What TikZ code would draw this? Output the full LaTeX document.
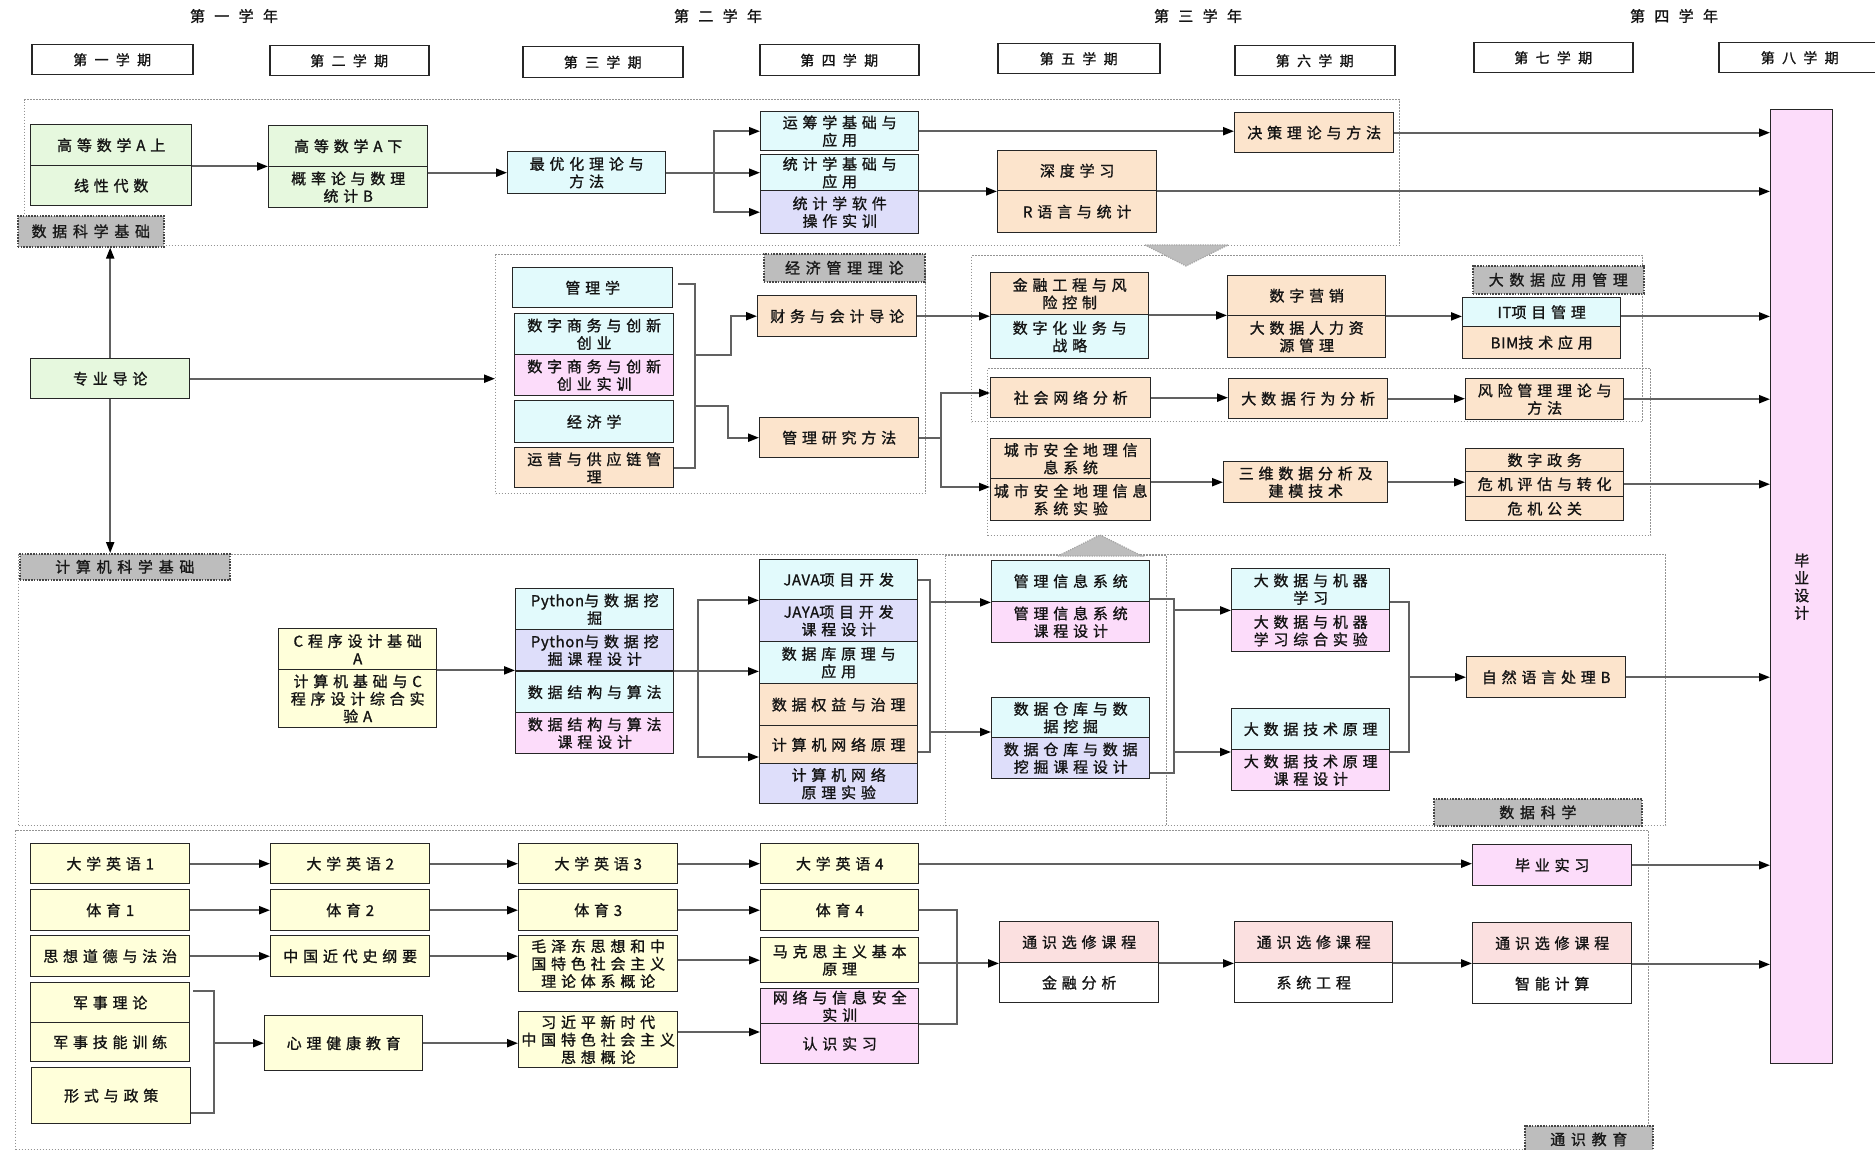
\documentclass[tikz,border=0pt]{standalone}
\usepackage{fontspec}
\setmainfont{Noto Sans CJK SC}[LetterSpace=32,FakeBold=1.2]
\usetikzlibrary{arrows.meta}
\definecolor{cgreen}{HTML}{E6F8DE}
\definecolor{ccyan}{HTML}{E2FAFC}
\definecolor{clav}{HTML}{DEDEFA}
\definecolor{cpink}{HTML}{FCDCFA}
\definecolor{corange}{HTML}{FCE4CC}
\definecolor{cyellow}{HTML}{FFFFDA}
\definecolor{crose}{HTML}{FBE0E0}
\definecolor{cgray}{HTML}{BDBDBD}
\newcommand\boxfont{\fontsize{15}{17.5}\selectfont}
\newcommand\semfont{\fontsize{14}{16}\selectfont\addfontfeatures{LetterSpace=52}}
\newcommand\yearfont{\fontsize{15}{17}\selectfont\addfontfeatures{LetterSpace=62}}
\newcommand\lblfont{\fontsize{15}{17}\selectfont\addfontfeatures{LetterSpace=38}}
\newcommand\lat[1]{{\addfontfeatures{LetterSpace=4}#1}}
\tikzset{
  bx/.style={draw=black!85, line width=1.4pt, inner sep=1pt, align=center, text=black!92, font=\boxfont},
  sem/.style={draw=black!85, line width=1.5pt, fill=white, inner sep=0pt, text=black!92, font=\semfont},
  region/.style={draw=gray!85, line width=1.3pt, dash pattern=on 1.3pt off 1.7pt, inner sep=0pt},
  glabel/.style={fill=cgray, draw=gray!55!black, line width=1.6pt, dash pattern=on 1.6pt off 1.2pt, inner sep=0pt, text=black!90, font=\lblfont},
  conline/.style={draw=black!62, line width=2pt},
  conarr/.style={conline, -{Triangle[length=11pt,width=8pt,color=black]}},
  tri/.style={fill=cgray, draw=gray!70, line width=1.2pt, dash pattern=on 1.2pt off 1.2pt}
}
\newcommand\crsbox[7]{\node[bx,fill=#2,anchor=north west,minimum width={#5-#3},minimum height={#6-#4}] (#1) at (#3,#4) {#7};}
\newcommand\crsregion[5]{\node[region,anchor=north west,minimum width={#4-#2},minimum height={#5-#3}] (#1) at (#2,#3) {};}
\newcommand\crslabel[6]{\node[glabel,anchor=north west,minimum width={#4-#2},minimum height={#5-#3}] (#1) at (#2,#3) {#6};}
\newcommand\crssem[6]{\node[sem,anchor=north west,minimum width={#4-#2},minimum height={#5-#3}] (#1) at (#2,#3) {#6};}
\begin{document}
\begin{tikzpicture}[x=1pt,y=-1pt]
\fill[white] (0,0) rectangle (1875,1150);
\useasboundingbox (0,0) rectangle (1875,1150);

% years
\node[font=\yearfont,text=black!92] (y1) at (234,16) {第一学年};
\node[font=\yearfont,text=black!92] (y2) at (718,16) {第二学年};
\node[font=\yearfont,text=black!92] (y3) at (1198,16) {第三学年};
\node[font=\yearfont,text=black!92] (y4) at (1674,16) {第四学年};
% semesters
\crssem{s1}{31}{44}{192}{74}{第一学期}
\crssem{s2}{269}{45}{428}{75}{第二学期}
\crssem{s3}{522}{46}{682}{77}{第三学期}
\crssem{s4}{759}{44}{918}{75}{第四学期}
\crssem{s5}{997}{43}{1159}{73}{第五学期}
\crssem{s6}{1234}{45}{1394}{75}{第六学期}
\crssem{s7}{1473}{42}{1632}{72}{第七学期}
\crssem{s8}{1718}{42}{1880}{72}{第八学期}

% regions
\crsregion{R1}{24}{99}{1399}{245}
\crsregion{R2}{495}{254}{925}{493}
\crsregion{R3a}{971}{255}{1642}{421}
\crsregion{R3b}{987}{368}{1650}{535}
\crsregion{R4}{18}{554}{1665}{825}
\crsregion{R4i}{945}{555}{1166}{825}
\crsregion{R5}{15}{830}{1648}{1149}

% triangles
\draw[tri] (1145,245) -- (1228,245) -- (1186,266) -- cycle;
\draw[tri] (1058,556) -- (1142,556) -- (1100,535) -- cycle;

% labels
\crslabel{L1}{17}{215}{163}{246}{数据科学基础}
\crslabel{L2}{763}{253}{924}{281}{经济管理理论}
\crslabel{L3}{1472}{265}{1643}{293}{大数据应用管理}
\crslabel{L4}{19}{553}{229}{579}{计算机科学基础}
\crslabel{L5}{1433}{798}{1641}{825}{数据科学}
\crslabel{L6}{1524}{1125}{1652}{1152}{通识教育}

% region 1
\crsbox{gA1}{cgreen}{30}{124}{191}{165}{高等数学A上}
\crsbox{gA2}{cgreen}{30}{165}{191}{205}{线性代数}
\crsbox{gB1}{cgreen}{268}{125}{427}{166}{高等数学A下}
\crsbox{gB2}{cgreen}{268}{166}{427}{207}{概率论与数理\\统计B}
\crsbox{opt}{ccyan}{507}{151}{665}{193}{最优化理论与\\方法}
\crsbox{yc}{ccyan}{760}{111}{918}{150}{运筹学基础与\\应用}
\crsbox{tj}{ccyan}{760}{154}{918}{190}{统计学基础与\\应用}
\crsbox{tjsw}{clav}{760}{190}{918}{233}{统计学软件\\操作实训}
\crsbox{jc}{corange}{1234}{112}{1393}{152}{决策理论与方法}
\crsbox{sd}{corange}{997}{150}{1156}{190}{深度学习}
\crsbox{rl}{corange}{997}{190}{1156}{232}{R语言与统计}
\crsbox{bysj}{cpink}{1770}{109}{1832}{1063}{毕\\业\\设\\计}

% region 2
\crsbox{zydl}{cgreen}{30}{358}{189}{398}{专业导论}
\crsbox{glx}{ccyan}{512}{267}{672}{307}{管理学}
\crsbox{szsw}{ccyan}{514}{313}{673}{354}{数字商务与创新\\创业}
\crsbox{szsx}{cpink}{514}{354}{673}{395}{数字商务与创新\\创业实训}
\crsbox{jjx}{ccyan}{514}{400}{673}{442}{经济学}
\crsbox{yy}{corange}{514}{447}{673}{487}{运营与供应链管\\理}
\crsbox{cw}{corange}{757}{295}{916}{336}{财务与会计导论}
\crsbox{glyj}{corange}{759}{417}{918}{457}{管理研究方法}

% region 3
\crsbox{jr}{corange}{990}{272}{1148}{314}{金融工程与风\\险控制}
\crsbox{szh}{ccyan}{990}{314}{1148}{358}{数字化业务与\\战略}
\crsbox{szyx}{corange}{1227}{275}{1385}{315}{数字营销}
\crsbox{dsjrl}{corange}{1227}{315}{1385}{357}{大数据人力资\\源管理}
\crsbox{it}{ccyan}{1462}{297}{1620}{326}{\lat{IT}项目管理}
\crsbox{bim}{corange}{1462}{326}{1620}{358}{\lat{BIM}技术应用}
\crsbox{shwl}{corange}{990}{377}{1150}{417}{社会网络分析}
\crsbox{dsjxw}{corange}{1228}{378}{1387}{418}{大数据行为分析}
\crsbox{fx}{corange}{1465}{378}{1623}{419}{风险管理理论与\\方法}
\crsbox{cs1}{corange}{990}{438}{1150}{478}{城市安全地理信\\息系统}
\crsbox{cs2}{corange}{990}{478}{1150}{520}{城市安全地理信息\\系统实验}
\crsbox{sw}{corange}{1223}{461}{1387}{502}{三维数据分析及\\建模技术}
\crsbox{szzw}{corange}{1465}{448}{1623}{471}{数字政务}
\crsbox{wj}{corange}{1465}{471}{1623}{496}{危机评估与转化}
\crsbox{wjgg}{corange}{1465}{496}{1623}{520}{危机公关}

% region 4
\crsbox{c1}{cyellow}{278}{628}{436}{669}{C程序设计基础\\A}
\crsbox{c2}{cyellow}{278}{669}{436}{727}{计算机基础与C\\程序设计综合实\\验A}
\crsbox{py1}{ccyan}{515}{588}{673}{629}{\lat{Python}与数据挖\\掘}
\crsbox{py2}{clav}{515}{629}{673}{670}{\lat{Python}与数据挖\\掘课程设计}
\crsbox{ds1}{ccyan}{515}{671}{673}{712}{数据结构与算法}
\crsbox{ds2}{cpink}{515}{712}{673}{753}{数据结构与算法\\课程设计}
\crsbox{java}{ccyan}{759}{559}{917}{599}{\lat{JAVA}项目开发}
\crsbox{jaya}{clav}{759}{599}{917}{641}{\lat{JAYA}项目开发\\课程设计}
\crsbox{sjk}{ccyan}{759}{641}{917}{683}{数据库原理与\\应用}
\crsbox{sjqy}{corange}{759}{683}{917}{725}{数据权益与治理}
\crsbox{jsw}{corange}{759}{725}{917}{763}{计算机网络原理}
\crsbox{jswsy}{clav}{759}{763}{917}{803}{计算机网络\\原理实验}
\crsbox{mis1}{ccyan}{991}{560}{1149}{601}{管理信息系统}
\crsbox{mis2}{cpink}{991}{601}{1149}{642}{管理信息系统\\课程设计}
\crsbox{dw1}{ccyan}{991}{697}{1149}{737}{数据仓库与数\\据挖掘}
\crsbox{dw2}{clav}{991}{737}{1149}{778}{数据仓库与数据\\挖掘课程设计}
\crsbox{ml1}{ccyan}{1231}{568}{1389}{609}{大数据与机器\\学习}
\crsbox{ml2}{cpink}{1231}{609}{1389}{651}{大数据与机器\\学习综合实验}
\crsbox{bt1}{ccyan}{1231}{708}{1389}{749}{大数据技术原理}
\crsbox{bt2}{cpink}{1231}{749}{1389}{790}{大数据技术原理\\课程设计}
\crsbox{nlp}{corange}{1466}{656}{1625}{697}{自然语言处理B}

% region 5
\crsbox{en1}{cyellow}{30}{843}{189}{883}{大学英语1}
\crsbox{pe1}{cyellow}{30}{889}{189}{930}{体育1}
\crsbox{sx}{cyellow}{30}{935}{189}{976}{思想道德与法治}
\crsbox{js1}{cyellow}{30}{982}{189}{1022}{军事理论}
\crsbox{js2}{cyellow}{30}{1022}{189}{1061}{军事技能训练}
\crsbox{xs}{cyellow}{31}{1067}{190}{1123}{形式与政策}
\crsbox{en2}{cyellow}{270}{843}{429}{883}{大学英语2}
\crsbox{pe2}{cyellow}{270}{889}{429}{930}{体育2}
\crsbox{zgjd}{cyellow}{270}{935}{429}{976}{中国近代史纲要}
\crsbox{xl}{cyellow}{264}{1015}{422}{1070}{心理健康教育}
\crsbox{en3}{cyellow}{518}{843}{677}{883}{大学英语3}
\crsbox{pe3}{cyellow}{518}{889}{677}{930}{体育3}
\crsbox{mao}{cyellow}{518}{935}{677}{991}{毛泽东思想和中\\国特色社会主义\\理论体系概论}
\crsbox{xi}{cyellow}{518}{1011}{677}{1067}{习近平新时代\\中国特色社会主义\\思想概论}
\crsbox{en4}{cyellow}{760}{843}{918}{883}{大学英语4}
\crsbox{pe4}{cyellow}{760}{889}{918}{930}{体育4}
\crsbox{mks}{cyellow}{760}{937}{918}{982}{马克思主义基本\\原理}
\crsbox{wl}{cpink}{760}{988}{918}{1023}{网络与信息安全\\实训}
\crsbox{rs}{cpink}{760}{1023}{918}{1063}{认识实习}
\crsbox{sy}{cpink}{1472}{844}{1631}{885}{毕业实习}
\crsbox{tx1}{crose}{999}{921}{1158}{962}{通识选修课程}
\crsbox{jrfx}{white}{999}{962}{1158}{1002}{金融分析}
\crsbox{tx2}{crose}{1234}{921}{1392}{962}{通识选修课程}
\crsbox{xtgc}{white}{1234}{962}{1392}{1002}{系统工程}
\crsbox{tx3}{crose}{1472}{922}{1631}{963}{通识选修课程}
\crsbox{znjs}{white}{1472}{963}{1631}{1003}{智能计算}

% ---------- connectors region 1
\draw[conarr] (gA1.south east) -- (gA1.south east -| gB1.west);
\draw[conarr] (opt.west -| gB2.east) -- (opt.west);
\draw[conline] (opt.east) -- ++(48,0) coordinate (f1);
\draw[conarr] (f1) |- (yc.west);
\draw[conarr] (f1) -- (tj.west);
\draw[conarr] (f1) |- (tjsw.west);
\draw[conarr] (yc.east) -- (yc.east -| jc.west);
\draw[conarr] (jc.east) -- (jc.east -| bysj.west);
\draw[conarr] (tj.south east) -- (sd.south west);
\draw[conarr] (sd.south east) -- (sd.south east -| bysj.west);

% region 2
\draw[conarr] (zydl.north) -- (zydl.north |- L1.south);
\draw[conarr] (zydl.south) -- (zydl.south |- L4.north);
\draw[conarr] (zydl.east) -- (zydl.east -| R2.west);
\draw[conline] (glx.east |- 0,284) ++(5,0) -- ++(17,0) coordinate (b2) -- (b2 |- yy.east) -- (yy.east);
\draw[conarr] (b2 |- szsw.south) -- ++(36,0) |- (cw.west);
\draw[conarr] (b2 |- 0,406) -- ++(33,0) |- (glyj.west);

% region 3
\draw[conarr] (cw.east) -- (cw.east -| jr.west);
\draw[conarr] (jr.south east) -- (jr.south east -| szyx.west);
\draw[conarr] (szyx.south east) -- (szyx.south east -| it.west);
\draw[conarr] (it.east |- szyx.south east) -- (szyx.south east -| bysj.west);
\draw[conline] (glyj.east) -- ++(22,0) coordinate (b3);
\draw[conarr] (b3) |- (shwl.west |- 0,393);
\draw[conarr] (b3) |- (cs2.west |- 0,487);
\draw[conarr] (shwl.east) -- (shwl.east -| dsjxw.west);
\draw[conarr] (dsjxw.east) -- (dsjxw.east -| fx.west);
\draw[conarr] (fx.east) -- (fx.east -| bysj.west);
\draw[conarr] (sw.west -| cs2.east) -- (sw.west);
\draw[conarr] (sw.east) -- (sw.east -| wj.west);
\draw[conarr] (wj.east) -- (wj.east -| bysj.west);

% region 4
\draw[conarr] (c1.south east) -- (c1.south east -| py2.west);
\draw[conline] (py2.south east) -- ++(24,0) coordinate (b4);
\draw[conarr] (b4) |- (java.south west);
\draw[conarr] (b4) -- (b4 -| sjk.west);
\draw[conarr] (b4) |- (jsw.west |- 0,757);
\draw[conline] (java.east) -- ++(12,0) coordinate (b5) -- (b5 |- 0,752) -- (jsw.east |- 0,752);
\draw[conarr] (b5 |- mis1.south west) -- (mis1.south west);
\draw[conarr] (b5 |- 0,732) -- (dw1.west |- 0,732);
\draw[conline] (mis1.south east) ++(0,-3) -- ++(24,0) coordinate (b6) -- (b6 |- 0,773) -- (dw2.east |- 0,773);
\draw[conarr] (b6 |- ml1.south) -- (ml1.south west);
\draw[conarr] (b6 |- 0,752) -- (bt1.west |- 0,752);
\draw[conline] (ml1.east |- 0,602) -- ++(19,0) coordinate (b7) -- (b7 |- 0,752) -- (bt1.east |- 0,752);
\draw[conarr] (b7 |- nlp.west) -- (nlp.west);
\draw[conarr] (nlp.east) -- (nlp.east -| bysj.west);

% region 5
\draw[conarr] (en1.east) -- (en2.west);
\draw[conarr] (en2.east) -- (en3.west);
\draw[conarr] (en3.east) -- (en4.west);
\draw[conarr] (en4.east) -- (en4.east -| sy.west);
\draw[conarr] (sy.east) -- (sy.east -| bysj.west);
\draw[conarr] (pe1.east) -- (pe2.west);
\draw[conarr] (pe2.east) -- (pe3.west);
\draw[conarr] (pe3.east) -- (pe4.west);
\draw[conarr] (sx.east) -- (zgjd.west);
\draw[conarr] (zgjd.east) -- (zgjd.east -| mao.west);
\draw[conarr] (mks.west -| mao.east) -- (mks.west);
\draw[conline] (js1.east |- 0,991) ++(3,0) -- ++(21,0) coordinate (b8) -- (b8 |- 0,1113) -- (xs.east |- 0,1113);
\draw[conarr] (b8 |- xl.west) -- (xl.west);
\draw[conarr] (xl.east) -- (xl.east -| xi.west);
\draw[conarr] (xi.east |- 0,1032) -- (rs.west |- 0,1032);
\draw[conline] (pe4.east) -- ++(38,0) coordinate (b9) -- (b9 |- wl.south) -- (wl.south east);
\draw[conarr] (mks.east |- tx1.south) -- (tx1.south west);
\draw[conarr] (tx1.south east) -- (tx1.south east -| tx2.west);
\draw[conarr] (tx2.south east) -- (tx2.south east -| tx3.west);
\draw[conarr] (tx3.south east) -- (tx3.south east -| bysj.west);
\end{tikzpicture}
\end{document}
